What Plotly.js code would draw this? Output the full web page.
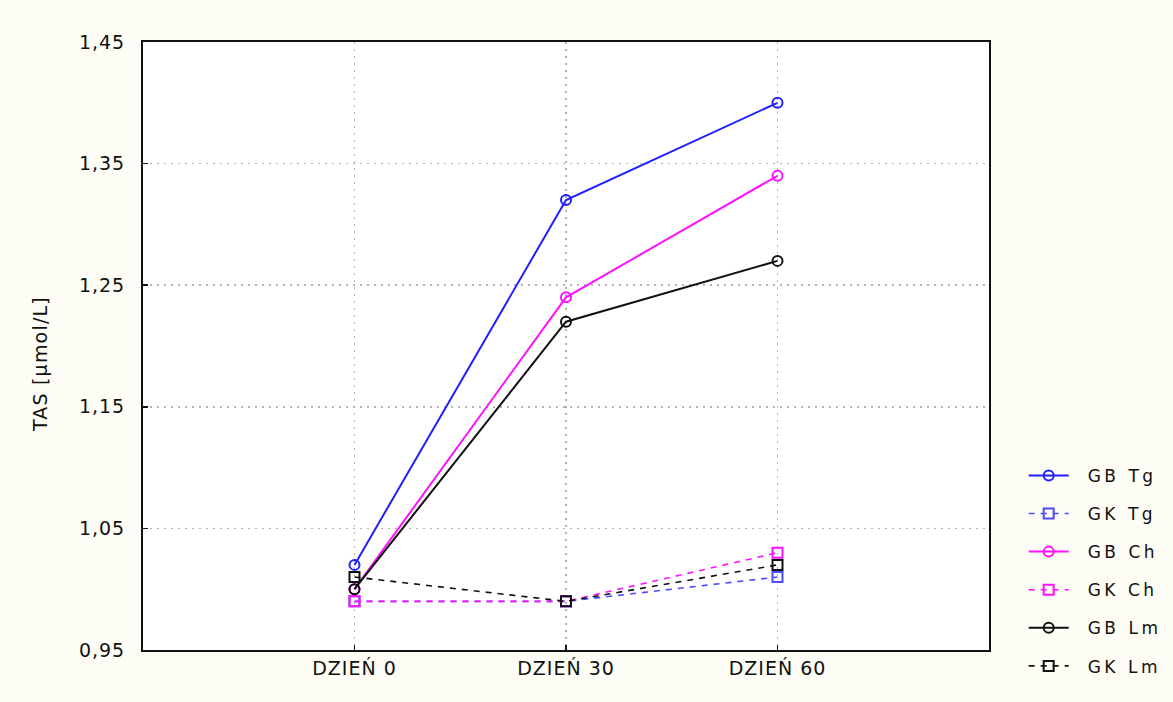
<!DOCTYPE html>
<html>
<head>
<meta charset="utf-8">
<script src="https://cdn.plot.ly/plotly-3.0.1.min.js"></script>
<style>
  html, body { margin: 0; padding: 0; background: #fdfdf5; }
  #chart { width: 1173px; height: 702px; }
  .legendtext { letter-spacing: 3.5px; transform: translateX(14px); }
  .legend .scrollbox, .legend g, .legend { clip-path: none !important; }
  .xtick text, .ytick text { letter-spacing: 1px; }
  .annotation-text { letter-spacing: 1.2px; }
</style>
</head>
<body>
<div id="chart"></div>
<script>
// Categories (x axis)
const days = ["DZIEŃ 0", "DZIEŃ 30", "DZIEŃ 60"];

// Series values (TAS, µmol/L)
const gbTg = [1.02, 1.32, 1.40];
const gkTg = [0.99, 0.99, 1.01];
const gbCh = [1.00, 1.24, 1.34];
const gkCh = [0.99, 0.99, 1.03];
const gbLm = [1.00, 1.22, 1.27];
const gkLm = [1.01, 0.99, 1.02];

// Series names
const names = ["GB Tg", "GK Tg", "GB Ch", "GK Ch", "GB Lm", "GK Lm"];

// Y tick values
const yTicks = [0.95, 1.05, 1.15, 1.25, 1.35, 1.45];
const yTitle = "TAS [µmol/L]";

const BLUE = "#1f1fff", BLUE_L = "#4b4bff", MAG = "#ff10ff", BLK = "#111111";

function solid(name, y, color) {
  return {
    x: days, y: y, name: name, type: "scatter", mode: "lines+markers",
    legendgroup: name,
    line: { color: color, width: 2 },
    marker: { symbol: "circle-open", size: 10, color: color, line: { width: 2, color: color } }
  };
}
function dashed(name, y, color) {
  return {
    x: days, y: y, name: name, type: "scatter", mode: "lines+markers",
    legendgroup: name,
    line: { color: color, width: 1.6, dash: "6px,6px" },
    marker: { symbol: "square-open", size: 10, color: color, line: { width: 2, color: color } }
  };
}

const data = [
  solid(names[0], gbTg, BLUE),
  dashed(names[1], gkTg, BLUE_L),
  solid(names[2], gbCh, MAG),
  dashed(names[3], gkCh, MAG),
  solid(names[4], gbLm, BLK),
  dashed(names[5], gkLm, BLK)
];

const FONT = "DejaVu Sans, Verdana, sans-serif";
const tickFont = { family: FONT, size: 19, color: "#111" };

const layout = {
  width: 1173, height: 702,
  paper_bgcolor: "#fdfdf5",
  plot_bgcolor: "#ffffff",
  separators: ", ",
  margin: { l: 143, r: 184, t: 42, b: 52, pad: 0 },
  showlegend: true,
  legend: {
    x: 1.041, xref: "paper", xanchor: "left",
    y: 0.316, yanchor: "top",
    bgcolor: "rgba(0,0,0,0)",
    font: { family: FONT, size: 17, color: "#111" },
    tracegroupgap: 13,
    traceorder: "grouped",
    itemwidth: 40
  },
  xaxis: {
    type: "category",
    range: [-1, 3],
    showline: true, linecolor: "#111", linewidth: 2, mirror: true,
    ticks: "inside", ticklen: 5, tickwidth: 1.5, tickcolor: "#111",
    showgrid: true, gridcolor: "#b4b4b4", griddash: "2px,5px", gridwidth: 1.5,
    tickfont: tickFont,
    zeroline: false
  },
  yaxis: {
    range: [0.95, 1.45],
    tickvals: yTicks,
    tickformat: ".2f",
    showline: true, linecolor: "#111", linewidth: 2, mirror: true,
    ticks: "inside", ticklen: 5, tickwidth: 1.5, tickcolor: "#111",
    showgrid: true, gridcolor: "#b4b4b4", griddash: "2px,5px", gridwidth: 1.5,
    tickfont: tickFont,
    ticklabelstandoff: 12,
    zeroline: false
  },
  annotations: [{
    text: yTitle, textangle: -90,
    xref: "paper", x: -0.122, xanchor: "center",
    yref: "paper", y: 0.47, yanchor: "middle",
    showarrow: false,
    font: { family: FONT, size: 19, color: "#111" }
  }]
};

Plotly.newPlot("chart", data, layout, { displayModeBar: false, staticPlot: true });
</script>
</body>
</html>
